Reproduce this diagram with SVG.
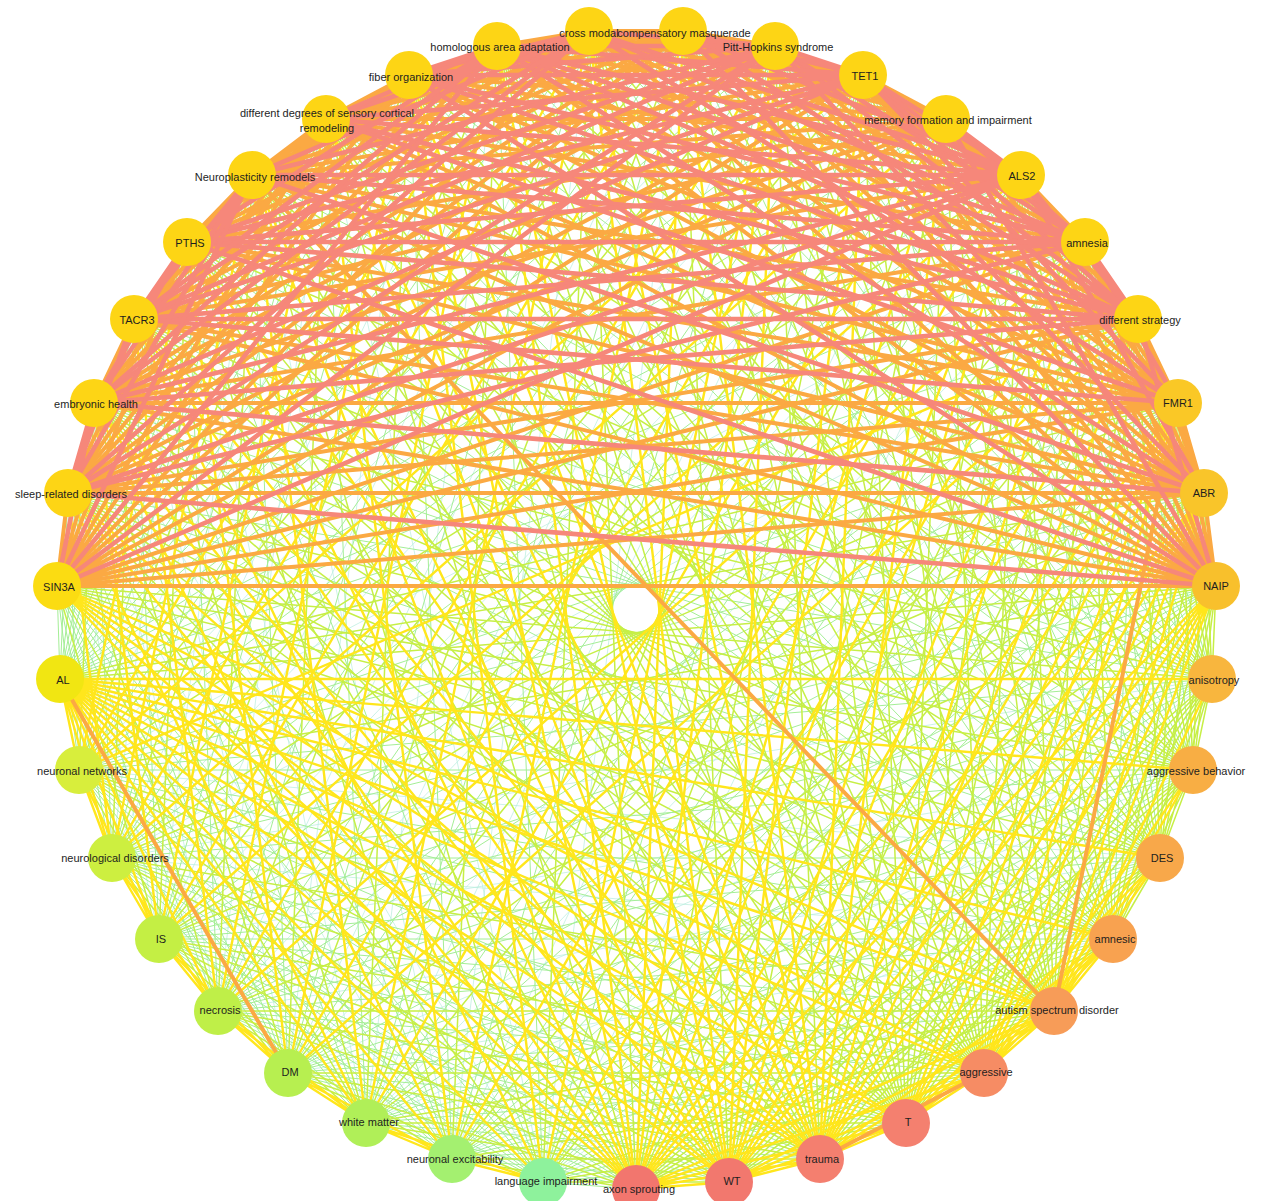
<svg xmlns="http://www.w3.org/2000/svg" width="1264" height="1201" viewBox="0 0 1264 1201">
<style>
#connectors path{fill:none}
.e1{stroke:#F6877A;stroke-width:4.6}
.e2{stroke:#FBA943;stroke-width:4}
.e3{stroke:#FFE61C;stroke-width:2.4}
.e4{stroke:#C6EF46;stroke-width:1.5}
.e5{stroke:#A4EE96;stroke-width:1}
.e6{stroke:#B6EDDC;stroke-width:0.7}
.node text{font-family:"Liberation Sans",Arial,sans-serif;font-size:11px;fill:#1e1e1e;text-anchor:middle}
</style>
<rect width="1264" height="1201" fill="#ffffff"/>
<g id="connectors">
<path class="e6" d="M1138 319L112 858M1138 319L366 1123M1085 242L79 770M1085 242L288 1073M1021 175L218 1011M1021 175L543 1182M946 119L159 939M946 119L452 1159M863 75L112 858M863 75L366 1123M775 46L79 770M775 46L288 1073M683 31L218 1011M683 31L543 1182M589 31L159 939M589 31L452 1159M497 46L112 858M497 46L366 1123M409 75L79 770M409 75L288 1073M326 119L218 1011M326 119L543 1182M252 175L159 939M252 175L452 1159M187 242L112 858M187 242L366 1123M134 319L79 770M134 319L288 1073M94 403L218 1011M94 403L543 1182M68 493L159 939M68 493L452 1159"/>
<path class="e6" d="M79 770L1160 858M112 858L1113 939M112 858L1212 679M159 939L1193 770M218 1011L1160 858M288 1073L1113 939M288 1073L1212 679M366 1123L1193 770M452 1159L1160 858M543 1182L1113 939M543 1182L1212 679"/>
<path class="e5" d="M1216 586L112 858M1216 586L159 939M1216 586L288 1073M1216 586L366 1123M1216 586L543 1182"/>
<path class="e5" d="M1204 493L79 770M1204 493L112 858M1204 493L218 1011M1204 493L288 1073M1204 493L452 1159M1204 493L543 1182"/>
<path class="e5" d="M1178 403L79 770M1178 403L159 939M1178 403L218 1011M1178 403L366 1123M1178 403L452 1159"/>
<path class="e5" d="M1138 319L60 679M1138 319L218 1011M1138 319L543 1182M1085 242L60 679M1085 242L159 939M1085 242L452 1159M1021 175L60 679M1021 175L112 858M1021 175L366 1123M946 119L60 679M946 119L79 770M946 119L288 1073M863 75L60 679M863 75L218 1011M863 75L543 1182M775 46L60 679M775 46L159 939M775 46L452 1159M683 31L60 679M683 31L112 858M683 31L366 1123M589 31L60 679M589 31L79 770M589 31L288 1073"/>
<path class="e5" d="M497 46L60 679M497 46L218 1011M497 46L543 1182M409 75L60 679M409 75L159 939M409 75L452 1159M326 119L60 679M326 119L112 858M326 119L366 1123M252 175L60 679M252 175L79 770M252 175L288 1073M187 242L60 679M187 242L218 1011M187 242L543 1182M134 319L60 679M134 319L159 939M134 319L452 1159M94 403L60 679M94 403L112 858M94 403L366 1123M68 493L60 679M68 493L79 770M68 493L288 1073"/>
<path class="e5" d="M1138 319L1113 939M1138 319L1193 770M1085 242L1160 858M1085 242L1212 679M1021 175L1113 939M1021 175L1193 770M946 119L1160 858M946 119L1212 679M863 75L1113 939M863 75L1193 770M775 46L1160 858M775 46L1212 679M683 31L1113 939M683 31L1193 770M589 31L1160 858M589 31L1212 679"/>
<path class="e5" d="M497 46L1113 939M497 46L1193 770M409 75L1160 858M409 75L1212 679M326 119L1113 939M326 119L1193 770M252 175L1160 858M252 175L1212 679M187 242L1113 939M187 242L1193 770M134 319L1160 858M134 319L1212 679M94 403L1113 939M94 403L1193 770M68 493L1160 858M68 493L1212 679"/>
<path class="e5" d="M57 586L60 679M57 586L79 770M57 586L112 858M57 586L218 1011M57 586L288 1073M57 586L452 1159M57 586L543 1182"/>
<path class="e5" d="M79 770L288 1073M79 770L366 1123M79 770L452 1159M79 770L543 1182M79 770L729 1182M79 770L906 1123M79 770L1054 1011M79 770L1113 939M79 770L1193 770M79 770L1212 679"/>
<path class="e5" d="M112 858L366 1123M112 858L452 1159M112 858L543 1182M112 858L636 1189M112 858L820 1159M112 858L984 1073M112 858L1160 858M112 858L1193 770"/>
<path class="e5" d="M159 939L452 1159M159 939L543 1182M159 939L729 1182M159 939L906 1123M159 939L1054 1011M159 939L1113 939M159 939L1160 858M159 939L1212 679"/>
<path class="e5" d="M218 1011L543 1182M218 1011L636 1189M218 1011L820 1159M218 1011L984 1073M218 1011L1113 939M218 1011L1193 770M218 1011L1212 679"/>
<path class="e5" d="M288 1073L729 1182M288 1073L906 1123M288 1073L1054 1011M288 1073L1160 858M288 1073L1193 770"/>
<path class="e5" d="M366 1123L636 1189M366 1123L820 1159M366 1123L984 1073M366 1123L1113 939M366 1123L1160 858M366 1123L1212 679"/>
<path class="e5" d="M452 1159L729 1182M452 1159L906 1123M452 1159L1054 1011M452 1159L1113 939M452 1159L1193 770M452 1159L1212 679"/>
<path class="e5" d="M543 1182L636 1189M543 1182L820 1159M543 1182L984 1073M543 1182L1160 858M543 1182L1193 770"/>
<path class="e4" d="M1216 586L60 679M1216 586L79 770M1216 586L218 1011M1216 586L452 1159M1216 586L1113 939M1216 586L1160 858M1216 586L1193 770M1216 586L1212 679"/>
<path class="e4" d="M1204 493L60 679M1204 493L159 939M1204 493L366 1123M1204 493L1113 939M1204 493L1160 858M1204 493L1193 770M1204 493L1212 679"/>
<path class="e4" d="M1178 403L60 679M1178 403L112 858M1178 403L288 1073M1178 403L543 1182M1178 403L1113 939M1178 403L1160 858M1178 403L1193 770M1178 403L1212 679"/>
<path class="e4" d="M1138 319L159 939M1138 319L452 1159M1138 319L729 1182M1138 319L984 1073M1138 319L1160 858M1138 319L1212 679"/>
<path class="e4" d="M1085 242L112 858M1085 242L366 1123M1085 242L636 1189M1085 242L906 1123M1085 242L1113 939M1085 242L1193 770"/>
<path class="e4" d="M1021 175L79 770M1021 175L288 1073M1021 175L820 1159M1021 175L1054 1011M1021 175L1160 858M1021 175L1212 679"/>
<path class="e4" d="M946 119L218 1011M946 119L543 1182M946 119L729 1182M946 119L984 1073M946 119L1113 939M946 119L1193 770"/>
<path class="e4" d="M863 75L159 939M863 75L452 1159M863 75L636 1189M863 75L906 1123M863 75L1160 858M863 75L1212 679"/>
<path class="e4" d="M775 46L112 858M775 46L366 1123M775 46L820 1159M775 46L1054 1011M775 46L1113 939M775 46L1193 770"/>
<path class="e4" d="M683 31L79 770M683 31L288 1073M683 31L729 1182M683 31L984 1073M683 31L1160 858M683 31L1212 679"/>
<path class="e4" d="M589 31L218 1011M589 31L543 1182M589 31L636 1189M589 31L906 1123M589 31L1113 939M589 31L1193 770"/>
<path class="e4" d="M497 46L159 939M497 46L452 1159M497 46L820 1159M497 46L1054 1011M497 46L1160 858M497 46L1212 679"/>
<path class="e4" d="M409 75L112 858M409 75L366 1123M409 75L729 1182M409 75L984 1073M409 75L1113 939M409 75L1193 770"/>
<path class="e4" d="M326 119L79 770M326 119L288 1073M326 119L636 1189M326 119L906 1123M326 119L1160 858M326 119L1212 679"/>
<path class="e4" d="M252 175L218 1011M252 175L543 1182M252 175L820 1159M252 175L1113 939M252 175L1193 770"/>
<path class="e4" d="M187 242L159 939M187 242L452 1159M187 242L729 1182M187 242L984 1073M187 242L1160 858M187 242L1212 679"/>
<path class="e4" d="M134 319L112 858M134 319L366 1123M134 319L636 1189M134 319L906 1123M134 319L1113 939M134 319L1193 770"/>
<path class="e4" d="M94 403L79 770M94 403L288 1073M94 403L820 1159M94 403L1054 1011M94 403L1160 858M94 403L1212 679"/>
<path class="e4" d="M68 493L218 1011M68 493L543 1182M68 493L729 1182M68 493L984 1073M68 493L1113 939M68 493L1193 770"/>
<path class="e4" d="M1138 319L906 1123M1138 319L1054 1011M1085 242L984 1073M1085 242L1054 1011M1021 175L906 1123M1021 175L984 1073M946 119L906 1123M946 119L1054 1011M863 75L984 1073M863 75L1054 1011M775 46L906 1123M775 46L984 1073M683 31L906 1123M683 31L1054 1011M589 31L984 1073M589 31L1054 1011"/>
<path class="e4" d="M497 46L906 1123M497 46L984 1073M409 75L906 1123M409 75L1054 1011M326 119L984 1073M326 119L1054 1011M252 175L906 1123M252 175L984 1073M187 242L906 1123M187 242L1054 1011M134 319L984 1073M134 319L1054 1011M94 403L906 1123M94 403L984 1073M68 493L906 1123M68 493L1054 1011"/>
<path class="e4" d="M57 586L159 939M57 586L366 1123M57 586L1113 939M57 586L1160 858M57 586L1193 770M57 586L1212 679M79 770L218 1011M112 858L288 1073M159 939L366 1123M218 1011L452 1159M288 1073L543 1182"/>
<path class="e4" d="M79 770L636 1189M79 770L820 1159M79 770L984 1073M112 858L729 1182M112 858L906 1123M112 858L1054 1011M159 939L636 1189M159 939L820 1159M159 939L984 1073M218 1011L729 1182M218 1011L906 1123M218 1011L1054 1011"/>
<path class="e4" d="M288 1073L636 1189M288 1073L820 1159M288 1073L984 1073M366 1123L729 1182M366 1123L906 1123M366 1123L1054 1011M452 1159L636 1189M452 1159L820 1159M452 1159L984 1073M543 1182L729 1182M543 1182L906 1123M543 1182L1054 1011"/>
<path class="e4" d="M636 1189L1113 939M636 1189L1160 858M636 1189L1193 770M636 1189L1212 679M729 1182L1113 939M729 1182L1160 858M729 1182L1193 770M729 1182L1212 679M820 1159L1160 858M820 1159L1193 770M820 1159L1212 679M906 1123L1193 770M906 1123L1212 679M984 1073L1212 679"/>
<path class="e4" d="M1113 939L1160 858M1113 939L1193 770M1113 939L1212 679M1160 858L1193 770M1160 858L1212 679M1193 770L1212 679"/>
<path class="e3" d="M1216 586L636 1189M1216 586L729 1182M1216 586L820 1159M1216 586L906 1123M1216 586L984 1073M1216 586L1054 1011"/>
<path class="e3" d="M1204 493L636 1189M1204 493L729 1182M1204 493L820 1159M1204 493L906 1123M1204 493L984 1073M1204 493L1054 1011"/>
<path class="e3" d="M1178 403L636 1189M1178 403L729 1182M1178 403L820 1159M1178 403L906 1123M1178 403L984 1073"/>
<path class="e3" d="M1138 319L79 770M1138 319L288 1073M1138 319L636 1189M1138 319L820 1159"/>
<path class="e3" d="M1085 242L218 1011M1085 242L543 1182M1085 242L729 1182M1085 242L820 1159"/>
<path class="e3" d="M1021 175L159 939M1021 175L452 1159M1021 175L636 1189M1021 175L729 1182"/>
<path class="e3" d="M946 119L112 858M946 119L366 1123M946 119L636 1189M946 119L820 1159"/>
<path class="e3" d="M863 75L79 770M863 75L288 1073M863 75L729 1182M863 75L820 1159"/>
<path class="e3" d="M775 46L218 1011M775 46L543 1182M775 46L636 1189M775 46L729 1182"/>
<path class="e3" d="M683 31L159 939M683 31L452 1159M683 31L636 1189M683 31L820 1159"/>
<path class="e3" d="M589 31L112 858M589 31L366 1123M589 31L729 1182M589 31L820 1159"/>
<path class="e3" d="M497 46L79 770M497 46L288 1073M497 46L636 1189M497 46L729 1182"/>
<path class="e3" d="M409 75L218 1011M409 75L543 1182M409 75L636 1189M409 75L820 1159"/>
<path class="e3" d="M326 119L159 939M326 119L452 1159M326 119L729 1182M326 119L820 1159"/>
<path class="e3" d="M252 175L112 858M252 175L366 1123M252 175L636 1189M252 175L729 1182"/>
<path class="e3" d="M187 242L79 770M187 242L288 1073M187 242L636 1189M187 242L820 1159"/>
<path class="e3" d="M134 319L218 1011M134 319L543 1182M134 319L729 1182M134 319L820 1159"/>
<path class="e3" d="M94 403L159 939M94 403L452 1159M94 403L636 1189M94 403L729 1182"/>
<path class="e3" d="M68 493L112 858M68 493L366 1123M68 493L636 1189M68 493L820 1159"/>
<path class="e3" d="M57 586L636 1189M57 586L729 1182M57 586L820 1159M57 586L906 1123M57 586L984 1073M57 586L1054 1011"/>
<path class="e3" d="M60 679L79 770M60 679L112 858M60 679L159 939M60 679L218 1011M60 679L366 1123M60 679L452 1159M60 679L543 1182M60 679L636 1189M60 679L729 1182M60 679L820 1159M60 679L906 1123M60 679L984 1073M60 679L1054 1011M60 679L1113 939M60 679L1160 858M60 679L1193 770M60 679L1212 679"/>
<path class="e3" d="M79 770L112 858M79 770L159 939M112 858L159 939M112 858L218 1011M159 939L218 1011M159 939L288 1073M218 1011L288 1073M218 1011L366 1123M288 1073L366 1123M288 1073L452 1159M366 1123L452 1159M366 1123L543 1182M452 1159L543 1182"/>
<path class="e3" d="M636 1189L729 1182M636 1189L820 1159M636 1189L906 1123M636 1189L984 1073M636 1189L1054 1011M729 1182L820 1159M729 1182L906 1123M729 1182L984 1073M729 1182L1054 1011"/>
<path class="e3" d="M820 1159L906 1123M820 1159L1054 1011M820 1159L1113 939M906 1123L984 1073M906 1123L1054 1011M906 1123L1113 939M906 1123L1160 858M984 1073L1054 1011M984 1073L1113 939M984 1073L1160 858M984 1073L1193 770"/>
<path class="e3" d="M1054 1011L1113 939M1054 1011L1160 858M1054 1011L1193 770M1054 1011L1212 679"/>
<path class="e2" d="M1216 586L1204 493M1216 586L1178 403M1216 586L1085 242M1216 586L1021 175M1216 586L863 75M1216 586L775 46M1216 586L589 31M1216 586L497 46M1216 586L326 119M1216 586L252 175M1216 586L134 319M1216 586L94 403M1216 586L57 586"/>
<path class="e2" d="M1204 493L1178 403M1204 493L1138 319M1204 493L1085 242M1204 493L946 119M1204 493L863 75M1204 493L683 31M1204 493L589 31M1204 493L409 75M1204 493L326 119M1204 493L187 242M1204 493L134 319M1204 493L68 493M1204 493L57 586"/>
<path class="e2" d="M1178 403L1138 319M1178 403L1021 175M1178 403L946 119M1178 403L775 46M1178 403L683 31M1178 403L497 46M1178 403L409 75M1178 403L252 175M1178 403L187 242M1178 403L94 403M1178 403L68 493M1178 403L57 586M1178 403L1054 1011"/>
<path class="e2" d="M1138 319L946 119M1138 319L589 31M1138 319L252 175M1138 319L68 493M1138 319L57 586M1085 242L1021 175M1085 242L683 31M1085 242L326 119M1085 242L94 403M1085 242L57 586M1021 175L775 46M1021 175L409 75M1021 175L134 319"/>
<path class="e2" d="M946 119L863 75M946 119L497 46M946 119L187 242M946 119L57 586M863 75L589 31M863 75L252 175M863 75L68 493M863 75L57 586M775 46L683 31M775 46L326 119M775 46L94 403M683 31L409 75M683 31L134 319M683 31L57 586"/>
<path class="e2" d="M589 31L497 46M589 31L187 242M589 31L57 586M497 46L252 175M497 46L68 493M409 75L326 119M409 75L94 403M409 75L57 586M326 119L134 319M326 119L57 586M252 175L187 242M252 175L1054 1011M187 242L68 493M187 242L57 586M134 319L94 403M134 319L57 586M68 493L57 586"/>
<path class="e2" d="M60 679L288 1073M820 1159L984 1073"/>
<path class="e2" d="M946 119L775 46M946 119L683 31M946 119L589 31M946 119L409 75M946 119L326 119M946 119L252 175M946 119L134 319M946 119L94 403M946 119L68 493"/>
<path class="e2" d="M683 31L589 31M683 31L497 46M683 31L326 119M683 31L252 175M683 31L187 242M683 31L94 403M683 31L68 493"/>
<path class="e2" d="M409 75L252 175M409 75L187 242M409 75L134 319M409 75L68 493M326 119L252 175M326 119L187 242M326 119L94 403M326 119L68 493"/>
<path class="e1" d="M1216 586L1138 319M1216 586L946 119M1216 586L683 31M1216 586L409 75M1216 586L187 242M1216 586L68 493"/>
<path class="e1" d="M1204 493L1021 175M1204 493L775 46M1204 493L497 46M1204 493L252 175M1204 493L94 403"/>
<path class="e1" d="M1178 403L1085 242M1178 403L863 75M1178 403L589 31M1178 403L326 119M1178 403L134 319"/>
<path class="e1" d="M1138 319L1085 242M1138 319L1021 175M1138 319L863 75M1138 319L775 46M1138 319L683 31M1138 319L497 46M1138 319L409 75M1138 319L326 119M1138 319L187 242M1138 319L134 319M1138 319L94 403"/>
<path class="e1" d="M1085 242L946 119M1085 242L863 75M1085 242L775 46M1085 242L589 31M1085 242L497 46M1085 242L409 75M1085 242L252 175M1085 242L187 242M1085 242L134 319M1085 242L68 493"/>
<path class="e1" d="M1021 175L946 119M1021 175L863 75M1021 175L683 31M1021 175L589 31M1021 175L497 46M1021 175L326 119M1021 175L252 175M1021 175L187 242M1021 175L94 403M1021 175L68 493M1021 175L57 586"/>
<path class="e1" d="M863 75L775 46M863 75L683 31M863 75L497 46M863 75L409 75M863 75L326 119M863 75L187 242M863 75L134 319M863 75L94 403"/>
<path class="e1" d="M775 46L589 31M775 46L497 46M775 46L409 75M775 46L252 175M775 46L187 242M775 46L134 319M775 46L68 493M775 46L57 586"/>
<path class="e1" d="M589 31L409 75M589 31L326 119M589 31L252 175M589 31L134 319M589 31L94 403M589 31L68 493"/>
<path class="e1" d="M497 46L409 75M497 46L326 119M497 46L187 242M497 46L134 319M497 46L94 403M497 46L57 586"/>
<path class="e1" d="M252 175L134 319M252 175L94 403M252 175L68 493M252 175L57 586M187 242L134 319M187 242L94 403M134 319L68 493M94 403L68 493M94 403L57 586"/>
</g>
<g id="nodes">
<g id="n-NAIP" class="node"><circle cx="1216" cy="586" r="24" fill="#F8C02C"/><text x="1216" y="590">NAIP</text></g>
<g id="n-ABR" class="node"><circle cx="1204" cy="493" r="24" fill="#F9C52A"/><text x="1204" y="497">ABR</text></g>
<g id="n-FMR1" class="node"><circle cx="1178" cy="403" r="24" fill="#FAC826"/><text x="1178" y="407">FMR1</text></g>
<g id="n-different-strategy" class="node"><circle cx="1138" cy="319" r="24" fill="#FDD515"/><text x="1140" y="324">different strategy</text></g>
<g id="n-amnesia" class="node"><circle cx="1085" cy="242" r="24" fill="#FDD515"/><text x="1087" y="247">amnesia</text></g>
<g id="n-ALS2" class="node"><circle cx="1021" cy="175" r="24" fill="#FDD515"/><text x="1022" y="180">ALS2</text></g>
<g id="n-memory-formation" class="node"><circle cx="946" cy="119" r="24" fill="#FDD515"/><text x="948" y="124">memory formation and impairment</text></g>
<g id="n-TET1" class="node"><circle cx="863" cy="75" r="24" fill="#FDD515"/><text x="865" y="80">TET1</text></g>
<g id="n-Pitt-Hopkins" class="node"><circle cx="775" cy="46" r="24" fill="#FDD515"/><text x="778" y="51">Pitt-Hopkins syndrome</text></g>
<g id="n-cross-modal" class="node"><circle cx="589" cy="31" r="24" fill="#FDD515"/><text x="589" y="37">cross modal</text></g>
<g id="n-compensatory-masquerade" class="node"><circle cx="683" cy="31" r="24" fill="#FDD515"/><text x="684" y="37">compensatory masquerade</text></g>
<g id="n-homologous" class="node"><circle cx="497" cy="46" r="24" fill="#FDD515"/><text x="500" y="51">homologous area adaptation</text></g>
<g id="n-fiber" class="node"><circle cx="409" cy="75" r="24" fill="#FDD515"/><text x="411" y="81">fiber organization</text></g>
<g id="n-different-degrees" class="node"><circle cx="326" cy="119" r="24" fill="#FDD515"/><text x="327" y="117">different degrees of sensory cortical</text><text x="327" y="132">remodeling</text></g>
<g id="n-Neuroplasticity" class="node"><circle cx="252" cy="175" r="24" fill="#FDD515"/><text x="255" y="181">Neuroplasticity remodels</text></g>
<g id="n-PTHS" class="node"><circle cx="187" cy="242" r="24" fill="#FDD515"/><text x="190" y="247">PTHS</text></g>
<g id="n-TACR3" class="node"><circle cx="134" cy="319" r="24" fill="#FDD515"/><text x="137" y="324">TACR3</text></g>
<g id="n-embryonic" class="node"><circle cx="94" cy="403" r="24" fill="#FDD515"/><text x="96" y="408">embryonic health</text></g>
<g id="n-sleep" class="node"><circle cx="68" cy="493" r="24" fill="#FDD515"/><text x="71" y="498">sleep-related disorders</text></g>
<g id="n-SIN3A" class="node"><circle cx="57" cy="586" r="24" fill="#FBDC12"/><text x="59" y="591">SIN3A</text></g>
<g id="n-AL" class="node"><circle cx="60" cy="679" r="24" fill="#F1E612"/><text x="63" y="684">AL</text></g>
<g id="n-neuronal-networks" class="node"><circle cx="79" cy="770" r="24" fill="#D8EE3C"/><text x="82" y="775">neuronal networks</text></g>
<g id="n-neurological" class="node"><circle cx="112" cy="858" r="24" fill="#CDEF40"/><text x="115" y="862">neurological disorders</text></g>
<g id="n-IS" class="node"><circle cx="159" cy="939" r="24" fill="#C4EF44"/><text x="161" y="943">IS</text></g>
<g id="n-necrosis" class="node"><circle cx="218" cy="1011" r="24" fill="#BFEF48"/><text x="220" y="1014">necrosis</text></g>
<g id="n-DM" class="node"><circle cx="288" cy="1073" r="24" fill="#B7EF50"/><text x="290" y="1076">DM</text></g>
<g id="n-white-matter" class="node"><circle cx="366" cy="1123" r="24" fill="#B0EF58"/><text x="369" y="1126">white matter</text></g>
<g id="n-neuronal-excitability" class="node"><circle cx="452" cy="1159" r="24" fill="#A4F070"/><text x="455" y="1163">neuronal excitability</text></g>
<g id="n-language" class="node"><circle cx="543" cy="1182" r="24" fill="#8EF29C"/><text x="546" y="1185">language impairment</text></g>
<g id="n-axon" class="node"><circle cx="636" cy="1189" r="24" fill="#F2766E"/><text x="639" y="1193">axon sprouting</text></g>
<g id="n-WT" class="node"><circle cx="729" cy="1182" r="24" fill="#F2786E"/><text x="732" y="1185">WT</text></g>
<g id="n-trauma" class="node"><circle cx="820" cy="1159" r="24" fill="#F47F6F"/><text x="822" y="1163">trauma</text></g>
<g id="n-T" class="node"><circle cx="906" cy="1123" r="24" fill="#F4806F"/><text x="908" y="1126">T</text></g>
<g id="n-aggressive" class="node"><circle cx="984" cy="1073" r="24" fill="#F68C64"/><text x="986" y="1076">aggressive</text></g>
<g id="n-autism" class="node"><circle cx="1054" cy="1011" r="24" fill="#F79C58"/><text x="1057" y="1014">autism spectrum disorder</text></g>
<g id="n-amnesic" class="node"><circle cx="1113" cy="939" r="24" fill="#F8A250"/><text x="1115" y="943">amnesic</text></g>
<g id="n-DES" class="node"><circle cx="1160" cy="858" r="24" fill="#F8A84A"/><text x="1162" y="862">DES</text></g>
<g id="n-aggressive-behavior" class="node"><circle cx="1193" cy="770" r="24" fill="#F8AE44"/><text x="1196" y="775">aggressive behavior</text></g>
<g id="n-anisotropy" class="node"><circle cx="1212" cy="679" r="24" fill="#F8B63E"/><text x="1214" y="684">anisotropy</text></g>
</g>
</svg>
